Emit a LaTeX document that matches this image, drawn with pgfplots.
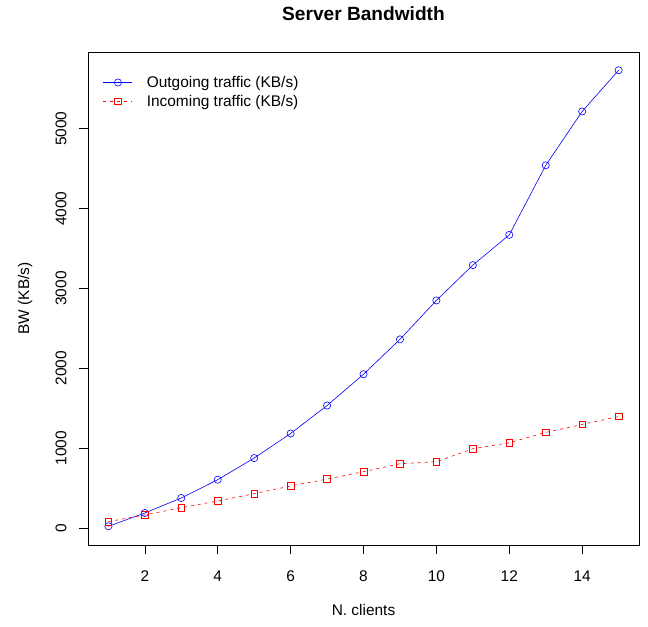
\documentclass[border=0pt]{standalone}
\usepackage{pgfplots}
\pgfplotsset{compat=1.18}
\usepackage{fontspec}
\setmainfont{Liberation Sans}
\begin{document}
\begin{tikzpicture}[x=1bp,y=1bp]
\useasboundingbox (0,0) rectangle (648,627);
\begin{axis}[
  at={(88bp,82bp)}, anchor=south west,
  scale only axis, width=551bp, height=493bp,
  xmin=0.44, xmax=15.56, ymin=-214, ymax=5962,
  xtick={2,4,...,14}, ytick={0,1000,...,5000},
  tick align=outside, major tick length=9bp,
  tick style={black, line width=0.6bp},
  axis line style={black, line width=0.75bp},
  xtick pos=bottom, ytick pos=left,
  /pgf/number format/assume math mode=true,
  /pgf/number format/1000 sep={},
  tick label style={font=\fontsize{15.5}{18}\selectfont},
  xticklabel style={anchor=north, yshift=-13.6bp},
  yticklabel style={xshift=-9bp, rotate=90, anchor=south},
  title={\textbf{Server Bandwidth}},
  title style={font=\fontsize{19.2}{22}\selectfont, at={(axis description cs:0.5,1)}, anchor=center, yshift=32bp},
  xlabel={N. clients},
  xlabel style={font=\fontsize{15.5}{18}\selectfont, at={(axis description cs:0.5,0)}, anchor=center, yshift=-65bp},
  ylabel={BW (KB/s)},
  ylabel style={font=\fontsize{15.5}{18}\selectfont, at={(axis description cs:-0.1143,0.5)}, anchor=center},
  legend style={at={(axis description cs:0,1)}, anchor=north west, draw=none, fill=none,
    font=\fontsize{15.5}{18}\selectfont, xshift=12bp, yshift=-20bp, row sep=2bp},
  legend cell align=left,
  legend image code/.code={\draw[mark repeat=2,mark phase=2] plot coordinates {(0bp,0bp) (14.5bp,0bp) (29bp,0bp)};\path (41bp,0bp);},
]
\addplot[blue, line width=0.6bp, mark=o, mark size=3.6bp, mark options={solid, fill=white}]
coordinates {(1,20)(2,187)(3,375)(4,604)(5,875)(6,1183)(7,1533)(8,1925)(9,2362)(10,2850)(11,3292)(12,3671)(13,4542)(14,5217)(15,5733)};
\addlegendentry{Outgoing traffic (KB/s)}
\addplot[red, line width=0.6bp, dash pattern=on 3bp off 4bp, mark=square, mark size=3.3bp, mark options={solid, fill=white}]
coordinates {(1,79)(2,162)(3,254)(4,337)(5,429)(6,525)(7,612)(8,704)(9,804)(10,829)(11,992)(12,1067)(13,1196)(14,1296)(15,1396)};
\addlegendentry{Incoming traffic (KB/s)}
\end{axis}
\end{tikzpicture}
\end{document}
